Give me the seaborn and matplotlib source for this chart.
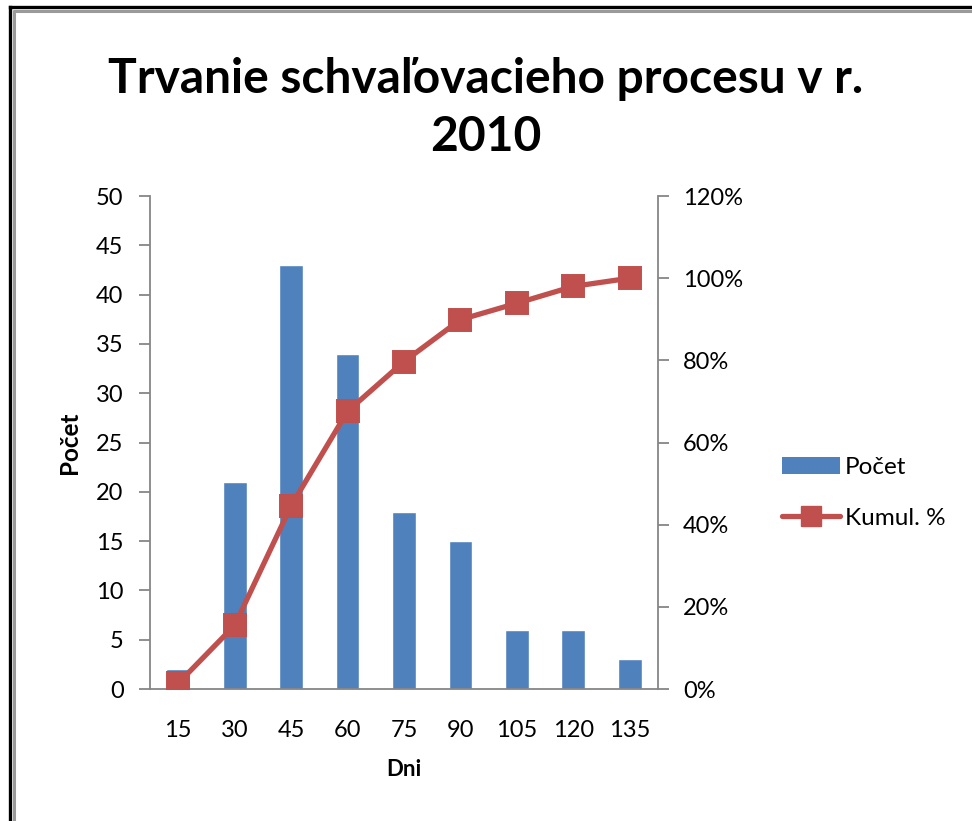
import matplotlib
matplotlib.use("Agg")
import matplotlib.pyplot as plt
import seaborn as sns
import pandas as pd
from matplotlib.lines import Line2D
from matplotlib.patches import Patch
from matplotlib.ticker import FixedLocator, PercentFormatter

# data
days = ["15", "30", "45", "60", "75", "90", "105", "120", "135"]
counts = [2, 21, 43, 34, 18, 15, 6, 6, 3]
cumul_pct = [1.4, 15.5, 44.6, 67.6, 79.7, 89.9, 93.9, 98.0, 100.0]

title = "Trvanie schvaľovacieho procesu v r.\n2010"
bar_color = "#4F81BD"
line_color = "#C0504D"
axis_grey = "#868686"

sns.set_style("white")
plt.rcParams["font.family"] = ["Lato", "DejaVu Sans"]
plt.rcParams["text.color"] = "black"
plt.rcParams["axes.labelcolor"] = "black"
plt.rcParams["xtick.color"] = "black"
plt.rcParams["ytick.color"] = "black"

df = pd.DataFrame({"Dni": days, "Počet": counts, "Kumul": cumul_pct})

fig = plt.figure(figsize=(9.72, 8.21), dpi=100)
ax = fig.add_axes([150 / 972, 1 - 689 / 821, 508 / 972, 493 / 821])

sns.barplot(data=df, x="Dni", y="Počet", color=bar_color, saturation=1,
            width=0.42, ax=ax)
ax.set_ylim(0, 50)
ax.set_yticks(range(0, 51, 5))
ax.set_xlim(-0.5, len(days) - 0.5)

ax2 = ax.twinx()
sns.pointplot(data=df, x="Dni", y="Kumul", color=line_color, markers="s",
              linestyles="-", markersize=15, linewidth=3.8, ax=ax2)
ax2.set_ylim(0, 120)
ax2.set_yticks(range(0, 121, 20))
ax2.yaxis.set_major_formatter(PercentFormatter(decimals=0))
ax2.set_xlim(-0.5, len(days) - 0.5)
ax2.set_ylabel("")

for a in (ax, ax2):
    for s in a.spines.values():
        s.set_visible(False)
    a.grid(False)

ax.spines["left"].set_visible(True)
ax.spines["bottom"].set_visible(True)
ax2.spines["right"].set_visible(True)
for s in (ax.spines["left"], ax.spines["bottom"], ax2.spines["right"]):
    s.set_color(axis_grey)
    s.set_linewidth(1.3)

# x ticks between categories
ax.xaxis.set_minor_locator(FixedLocator([i - 0.5 for i in range(len(days) + 1)]))
ax.tick_params(axis="x", which="major", length=0, pad=22, labelsize=17)
ax.tick_params(axis="x", which="minor", length=8, color=axis_grey, width=1.3,
               direction="out")
ax.tick_params(axis="y", length=8, color=axis_grey, width=1.3, direction="out",
               labelsize=17, pad=11, left=True, labelcolor="black")
ax2.tick_params(axis="y", length=8, color=axis_grey, width=1.3, direction="out",
                labelsize=17, pad=10, right=True, labelcolor="black")

ax.set_xlabel("Dni", fontsize=16, fontweight="bold", labelpad=13)
ax.set_ylabel("Počet", fontsize=17.5, fontweight="bold", labelpad=11)

fig.text(0.5, 1 - 108 / 821, title, ha="center", va="center",
         fontsize=34.5, fontweight="bold", linespacing=1.4)

handles = [Patch(facecolor=bar_color, edgecolor="none"),
           Line2D([], [], color=line_color, lw=3.8, marker="s", markersize=14)]
fig.legend(handles, ["Počet", "Kumul. %"], loc="center left",
           bbox_to_anchor=(760 / 972, 1 - 493 / 821), frameon=False,
           fontsize=17.5, handlelength=2.4, handletextpad=0.2,
           labelspacing=1.2)

# frame around the picture
fig.add_artist(Line2D([9.5 / 972, 9.5 / 972], [0, 1 - 7.5 / 821],
                      transform=fig.transFigure, color="black", lw=2.4,
                      solid_capstyle="projecting"))
fig.add_artist(Line2D([9.5 / 972, 1], [1 - 7.5 / 821, 1 - 7.5 / 821],
                      transform=fig.transFigure, color="black", lw=2.4,
                      solid_capstyle="projecting"))
fig.add_artist(Line2D([13.5 / 972, 13.5 / 972], [0, 1 - 11 / 821],
                      transform=fig.transFigure, color="#9a9a9a", lw=2.2))
fig.add_artist(Line2D([13.5 / 972, 1], [1 - 11 / 821, 1 - 11 / 821],
                      transform=fig.transFigure, color="#9a9a9a", lw=2.2))

fig.savefig("out.png", dpi=100)
